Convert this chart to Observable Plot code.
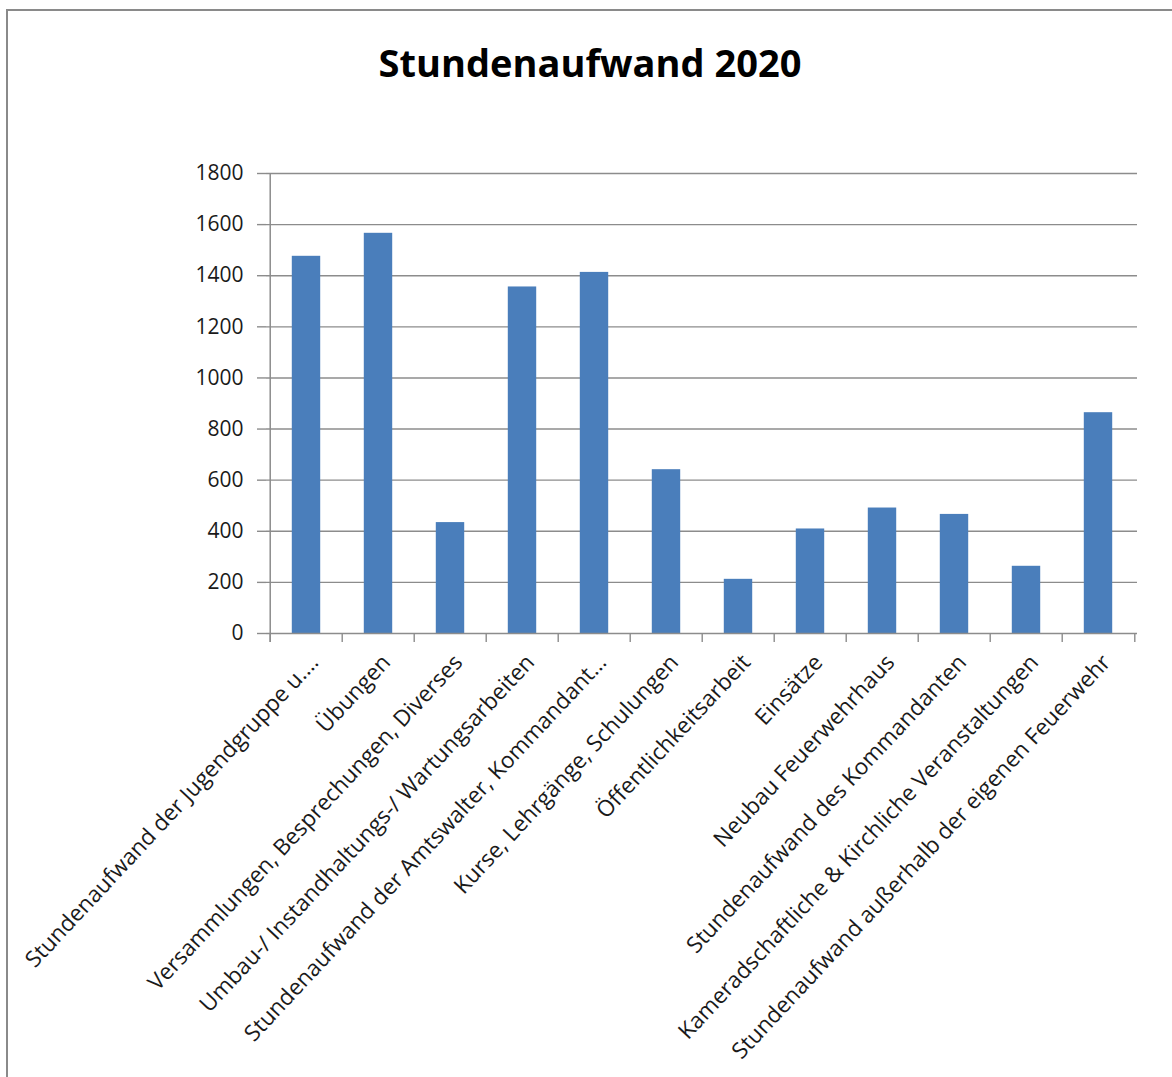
<!DOCTYPE html>
<html>
<head>
<meta charset="utf-8">
<script src="https://cdn.jsdelivr.net/npm/d3@7"></script>
<script src="https://cdn.jsdelivr.net/npm/@observablehq/plot@0.6"></script>
<style>
  html, body { margin: 0; padding: 0; background: #fff; }
  body { width: 1172px; height: 1077px; position: relative; overflow: hidden; }
  #frame { position: absolute; left: 6px; top: 9px; right: -10px; bottom: -10px;
           border-left: 2px solid #8a8a8a; border-top: 2px solid #8a8a8a; }
  #title { position: absolute; left: 0; top: 43px; width: 1180px; text-align: center;
           font-family: "Open Sans", sans-serif; font-weight: 700; font-size: 38px;
           line-height: 38px; color: #000; letter-spacing: 0px; }
  #chart { position: absolute; left: 0; top: 140px; }
</style>
</head>
<body>
<div id="frame"></div>
<div id="title">Stundenaufwand 2020</div>
<div id="chart"></div>
<script>
const categories = [
  "Stundenaufwand der Jugendgruppe u.…",
  "Übungen",
  "Versammlungen, Besprechungen, Diverses",
  "Umbau-/ Instandhaltungs-/ Wartungsarbeiten",
  "Stundenaufwand der Amtswalter, Kommandant…",
  "Kurse, Lehrgänge, Schulungen",
  "Öffentlichkeitsarbeit",
  "Einsätze",
  "Neubau Feuerwehrhaus",
  "Stundenaufwand des Kommandanten",
  "Kameradschaftliche & Kirchliche Veranstaltungen",
  "Stundenaufwand außerhalb der eigenen Feuerwehr"
];
const hours = [1476, 1566, 434, 1356, 1413, 641, 212, 409, 491, 466, 263, 864];
const yTicks = [0, 200, 400, 600, 800, 1000, 1200, 1400, 1600, 1800];

const data = categories.map((c, i) => ({category: c, hours: hours[i]}));

const W = 1172, ML = 266, MR = 35;
const step = (W - ML - MR) / categories.length;
const barW = 29;
const inset = (step - barW) / 2;
const gray = "#8c8c8c";
const tickBelow = -35; // in data units (~9px below the baseline)

const chart = Plot.plot({
  width: W,
  height: 937,
  marginLeft: ML,
  marginRight: MR,
  marginTop: 33,
  marginBottom: 444,
  style: {fontFamily: "'Open Sans', sans-serif", fontSize: "22.5px", color: "#1a1a1a", background: "transparent", overflow: "visible"},
  x: {domain: categories, padding: 0, label: null},
  y: {domain: [0, 1800], ticks: yTicks, label: null},
  marks: [
    Plot.gridY(yTicks.filter(t => t > 0), {stroke: gray, strokeOpacity: 1, strokeWidth: 1.4}),
    Plot.barY(data, {x: "category", y: "hours", fill: "#4a7ebb", insetLeft: inset, insetRight: inset}),
    Plot.ruleY([0], {stroke: gray, strokeWidth: 1.5}),
    Plot.ruleX(categories, {x: d => d, y1: 0, y2: tickBelow, dx: -step / 2, stroke: gray, strokeWidth: 1.4}),
    Plot.ruleX([categories[categories.length - 1]], {x: d => d, y1: 0, y2: tickBelow, dx: step / 2, stroke: gray, strokeWidth: 1.4}),
    Plot.ruleX([categories[0]], {x: d => d, y1: tickBelow, y2: 1800, dx: -step / 2, stroke: gray, strokeWidth: 1.5}),
    Plot.axisY({ticks: yTicks, tickFormat: d => String(d), tickSize: 9, tickPadding: 14, stroke: gray, strokeWidth: 1.4, fill: "#1a1a1a", fontSize: "21px", label: null}),
    Plot.axisX({tickRotate: -47, tickSize: 0, tickPadding: 25, dx: 8, fill: "#1a1a1a", label: null})
  ]
});
document.getElementById("chart").appendChild(chart);
</script>
</body>
</html>
